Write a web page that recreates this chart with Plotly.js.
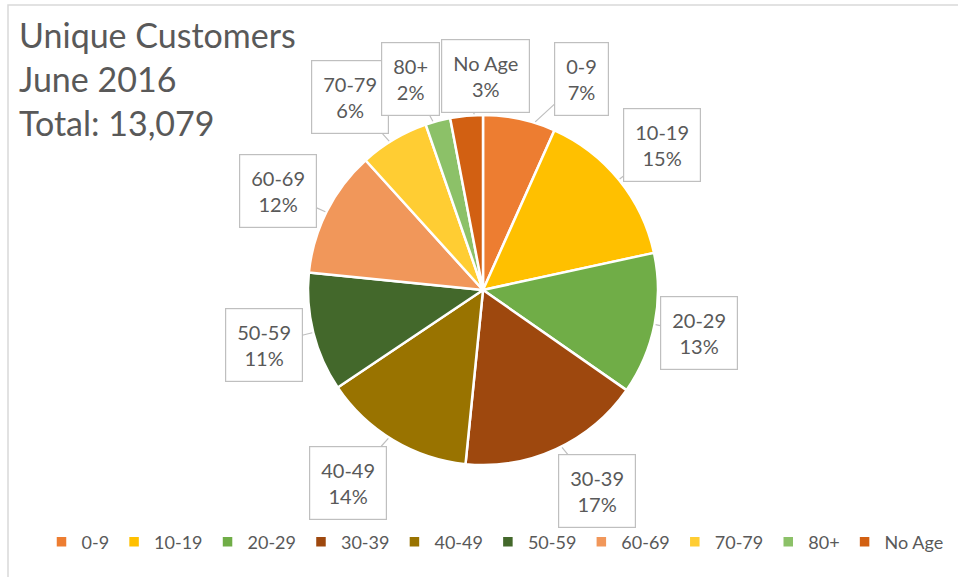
<!DOCTYPE html>
<html>
<head>
<meta charset="utf-8">
<script src="https://cdn.plot.ly/plotly-3.0.1.min.js"></script>
<style>
  body { margin: 0; background: #fff; }
  #plot { width: 958px; height: 577px; }
</style>
</head>
<body>
<div id="plot"></div>
<script>
// Age groups and customer counts (June 2016)
var ageGroups = ["0-9", "10-19", "20-29", "30-39", "40-49", "50-59", "60-69", "70-79", "80+", "No Age"];
var customers = [876, 1949, 1713, 2210, 1831, 1439, 1530, 837, 301, 393];
var sliceColors = ["#ED7D31", "#FFC000", "#70AD47", "#9E480E", "#997300", "#43682B", "#F1975A", "#FFCD33", "#8CC168", "#D26012"];

// label placement tweaks (degrees / pixels), like Excel moving callouts apart
var labelShift = [13, 0, 0, -5, 4, 0, -1, -4, -4, 6];
var labelDist = [233, 230, 220, 231, 235, 226, 228, 234, 223, 214];

var W = 958, H = 577;
var cx = 483, cy = 290, R = 175;

var total = customers.reduce(function (a, b) { return a + b; }, 0);

function px(x) { return x / W; }
function py(y) { return 1 - y / H; }

// Pie trace
var trace1 =
{
    type: "pie",
    labels: ageGroups,
    values: customers,
    sort: false,
    direction: "clockwise",
    rotation: 0,
    textinfo: "none",
    marker: { colors: sliceColors, line: { color: "#ffffff", width: 2.5 } },
    domain: { x: [px(cx - R), px(cx + R)], y: [py(cy + R), py(cy - R)] }
};

// Callout labels computed from each slice's middle angle
var annotations = [];
var cum = 0;
customers.forEach(function (v, i) {
    var mid = (cum + v / 2) / total * 360;
    cum += v;
    var pct = Math.round(v / total * 100);
    var tipA = (mid + labelShift[i] * 0.4) * Math.PI / 180;
    var tipX = cx + (R + 1) * Math.sin(tipA);
    var tipY = cy - (R + 1) * Math.cos(tipA);
    var labA = (mid + labelShift[i]) * Math.PI / 180;
    var labX = cx + labelDist[i] * Math.sin(labA);
    var labY = cy - labelDist[i] * Math.cos(labA);
    annotations.push({
        xref: "paper", yref: "paper",
        x: px(tipX), y: py(tipY),
        ax: labX - tipX, ay: labY - tipY,
        text: ageGroups[i] + "<br>" + pct + "%",
        showarrow: true,
        arrowhead: 0,
        arrowwidth: 1.2,
        arrowcolor: "#bfbfbf",
        bordercolor: "#bfbfbf",
        borderwidth: 1.2,
        borderpad: 11,
        bgcolor: "#ffffff",
        font: { family: "Lato, sans-serif", size: 20, color: "#595959" }
    });
});

// Chart title as a left-aligned text block
annotations.push({
    xref: "paper", yref: "paper",
    x: px(17), xanchor: "left",
    y: py(12), yanchor: "top",
    align: "left",
    showarrow: false,
    text: "Unique Customers<br>June 2016<br>Total: " + total.toLocaleString("en-US"),
    font: { family: "Lato, sans-serif", size: 34, color: "#595959" }
});

var layout =
{
    width: W,
    height: H,
    margin: { l: 0, r: 0, t: 0, b: 0 },
    paper_bgcolor: "#ffffff",
    font: { family: "Lato, sans-serif", color: "#595959" },
    showlegend: true,
    legend: {
        orientation: "h",
        x: px(495), xanchor: "center",
        y: py(542), yanchor: "middle",
        font: { family: "Lato, sans-serif", size: 18, color: "#595959" },
        itemwidth: 30,
        traceorder: "normal"
    },
    shapes: [{
        type: "rect", xref: "paper", yref: "paper",
        x0: px(8), x1: 1.05, y0: -0.05, y1: py(5),
        line: { color: "#d9d9d9", width: 1.5 }
    }],
    annotations: annotations
};

Plotly.newPlot("plot", [trace1], layout, { displayModeBar: false });
</script>
</body>
</html>
